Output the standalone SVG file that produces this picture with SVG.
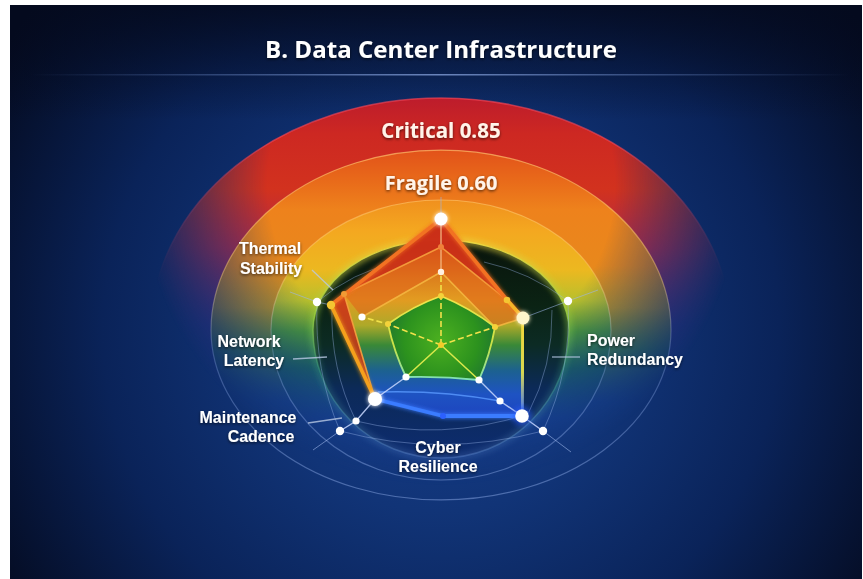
<svg xmlns="http://www.w3.org/2000/svg" width="863" height="579" viewBox="0 0 863 579">
  <defs>
    <style>
      .lbl { font-family: "Liberation Sans", "Open Sans", sans-serif; font-weight: 700; font-size: 16px; fill: #ffffff; }
      .band { font-family: "Open Sans", "Liberation Sans", sans-serif; font-weight: 700; fill: #fff4ea; }
      .leader { stroke: #b9c9e4; stroke-width: 1.3; stroke-opacity: 0.8; fill: none; }
      .faint { stroke: #9cb6ea; stroke-width: 1; stroke-opacity: 0.4; fill: none; }
      .spoke { stroke: #c9d8ff; stroke-width: 1.4; stroke-opacity: 0.85; fill: none; }
      .dash { stroke: #f2e24a; stroke-width: 1.6; stroke-dasharray: 6 3; fill: none; }
      .warmln { stroke: #f6a23e; stroke-width: 1.6; fill: none; stroke-opacity: 0.9; }
      .dot { fill: #ffffff; }
      .ydot { fill: #f4d23a; }
    </style>

    <!-- page background -->
    <radialGradient id="bgG" gradientUnits="userSpaceOnUse" cx="441" cy="330" r="520">
      <stop offset="0" stop-color="#17408e"/>
      <stop offset="0.35" stop-color="#113477"/>
      <stop offset="0.65" stop-color="#0a2359"/>
      <stop offset="1" stop-color="#040a1e"/>
    </radialGradient>
    <linearGradient id="topShade" x1="0" y1="5" x2="0" y2="120" gradientUnits="userSpaceOnUse">
      <stop offset="0" stop-color="#040a1e" stop-opacity="0.85"/>
      <stop offset="1" stop-color="#040a1e" stop-opacity="0"/>
    </linearGradient>
    <linearGradient id="ruleG" x1="30" y1="0" x2="850" y2="0" gradientUnits="userSpaceOnUse">
      <stop offset="0" stop-color="#6f8fd0" stop-opacity="0"/>
      <stop offset="0.5" stop-color="#8aa6e0" stop-opacity="0.75"/>
      <stop offset="1" stop-color="#6f8fd0" stop-opacity="0"/>
    </linearGradient>

    <!-- soft fade of the heat bands toward the sides and bottom -->
    <radialGradient id="fadeG" gradientUnits="userSpaceOnUse" cx="441" cy="185" r="300">
      <stop offset="0" stop-color="#fff"/>
      <stop offset="0.58" stop-color="#fff"/>
      <stop offset="1" stop-color="#000"/>
    </radialGradient>
    <mask id="warmMask" maskUnits="userSpaceOnUse" x="0" y="0" width="863" height="579">
      <rect width="863" height="579" fill="url(#fadeG)"/>
    </mask>

    <!-- heat band fills -->
    <linearGradient id="critG" x1="0" y1="98" x2="0" y2="552" gradientUnits="userSpaceOnUse">
      <stop offset="0" stop-color="#bd1c2c"/>
      <stop offset="0.08" stop-color="#cd2822"/>
      <stop offset="0.2" stop-color="#d2321e"/>
      <stop offset="0.33" stop-color="#b02a48"/>
      <stop offset="0.5" stop-color="#4a2c86"/>
      <stop offset="0.7" stop-color="#1a3585"/>
      <stop offset="1" stop-color="#12307a"/>
    </linearGradient>
    <linearGradient id="fragG" x1="0" y1="150" x2="0" y2="500" gradientUnits="userSpaceOnUse">
      <stop offset="0" stop-color="#e2521a"/>
      <stop offset="0.08" stop-color="#e8681a"/>
      <stop offset="0.17" stop-color="#ee821c"/>
      <stop offset="0.33" stop-color="#e8881c"/>
      <stop offset="0.45" stop-color="#c09624"/>
      <stop offset="0.57" stop-color="#4a8a3a"/>
      <stop offset="0.72" stop-color="#1c4a9a"/>
      <stop offset="1" stop-color="#10307a"/>
    </linearGradient>
    <linearGradient id="innerG" x1="0" y1="200" x2="0" y2="480" gradientUnits="userSpaceOnUse">
      <stop offset="0" stop-color="#f0901e"/>
      <stop offset="0.11" stop-color="#f4a820"/>
      <stop offset="0.25" stop-color="#ecb820"/>
      <stop offset="0.36" stop-color="#b8c02c"/>
      <stop offset="0.47" stop-color="#4e9e34"/>
      <stop offset="0.6" stop-color="#1e6a5a"/>
      <stop offset="0.78" stop-color="#1a48a0"/>
      <stop offset="1" stop-color="#12327e"/>
    </linearGradient>
    <linearGradient id="discG" x1="0" y1="240" x2="0" y2="458" gradientUnits="userSpaceOnUse">
      <stop offset="0" stop-color="#09130b"/>
      <stop offset="0.3" stop-color="#0b2314"/>
      <stop offset="0.48" stop-color="#0c2b24"/>
      <stop offset="0.68" stop-color="#0c2a58"/>
      <stop offset="1" stop-color="#0d2c70"/>
    </linearGradient>
    <linearGradient id="discEdge" x1="0" y1="240" x2="0" y2="458" gradientUnits="userSpaceOnUse">
      <stop offset="0" stop-color="#f0d840" stop-opacity="0.95"/>
      <stop offset="0.35" stop-color="#9ad040" stop-opacity="0.8"/>
      <stop offset="0.6" stop-color="#3aa080" stop-opacity="0.5"/>
      <stop offset="1" stop-color="#6a90d8" stop-opacity="0.35"/>
    </linearGradient>
    <linearGradient id="ringLine" x1="0" y1="98" x2="0" y2="500" gradientUnits="userSpaceOnUse">
      <stop offset="0" stop-color="#ffc070" stop-opacity="0.75"/>
      <stop offset="0.45" stop-color="#ffd070" stop-opacity="0.45"/>
      <stop offset="0.62" stop-color="#a8c4ff" stop-opacity="0.25"/>
      <stop offset="1" stop-color="#a8c4ff" stop-opacity="0.4"/>
    </linearGradient>

    <!-- data series fill -->
    <linearGradient id="seriesG" x1="0" y1="219" x2="0" y2="416" gradientUnits="userSpaceOnUse">
      <stop offset="0" stop-color="#d2341c"/>
      <stop offset="0.16" stop-color="#dc4c18"/>
      <stop offset="0.31" stop-color="#e8881e"/>
      <stop offset="0.41" stop-color="#eea222"/>
      <stop offset="0.54" stop-color="#b6b02a"/>
      <stop offset="0.64" stop-color="#3c8e38"/>
      <stop offset="0.77" stop-color="#1d6494"/>
      <stop offset="0.89" stop-color="#1f55c8"/>
      <stop offset="1" stop-color="#1e46c4"/>
    </linearGradient>
    <radialGradient id="coreG" gradientUnits="userSpaceOnUse" cx="441" cy="340" r="62">
      <stop offset="0" stop-color="#4cb020"/>
      <stop offset="0.6" stop-color="#2c921e"/>
      <stop offset="1" stop-color="#1c7034"/>
    </radialGradient>
    <linearGradient id="coreEdge" x1="0" y1="296" x2="0" y2="380" gradientUnits="userSpaceOnUse">
      <stop offset="0" stop-color="#f2e44a"/>
      <stop offset="0.6" stop-color="#c8e248"/>
      <stop offset="1" stop-color="#7ee0b8"/>
    </linearGradient>
    <linearGradient id="rightEdge" x1="0" y1="318" x2="0" y2="416" gradientUnits="userSpaceOnUse">
      <stop offset="0" stop-color="#f6d838"/>
      <stop offset="0.55" stop-color="#d8d850"/>
      <stop offset="1" stop-color="#3a70ff"/>
    </linearGradient>

    <filter id="glow" x="-50%" y="-50%" width="200%" height="200%">
      <feGaussianBlur stdDeviation="2.2" result="b"/>
      <feMerge><feMergeNode in="b"/><feMergeNode in="SourceGraphic"/></feMerge>
    </filter>
    <filter id="softGlow" x="-20%" y="-20%" width="140%" height="140%">
      <feGaussianBlur stdDeviation="3"/>
    </filter>
    <filter id="shadow" x="-20%" y="-40%" width="140%" height="180%">
      <feDropShadow dx="0" dy="1.2" stdDeviation="1.5" flood-color="#000" flood-opacity="0.65"/>
    </filter>
  </defs>

  <!-- page -->
  <rect width="863" height="579" fill="#ffffff"/>
  <rect x="10" y="5" width="852" height="574" fill="url(#bgG)"/>
  <rect x="10" y="5" width="852" height="115" fill="url(#topShade)"/>

  <!-- title -->
  <g id="title">
    <text x="441" y="58" text-anchor="middle" class="band" style="fill:#ffffff;font-size:24px" textLength="352" lengthAdjust="spacingAndGlyphs" filter="url(#shadow)">B. Data Center Infrastructure</text>
    <rect x="30" y="74" width="820" height="1.5" fill="url(#ruleG)"/>
  </g>

  <!-- heat bands: critical / fragile / stable -->
  <g id="bands">
    <g mask="url(#warmMask)">
      <path d="M151,330 A290,232 0 0 1 731,330 A290,222 0 0 1 151,330 Z" fill="url(#critG)"/>
      <path d="M151,330 A290,232 0 0 1 731,330" fill="none" stroke="#ff4a5a" stroke-opacity="0.6" stroke-width="1.5"/>
      <path d="M211,330 A230,180 0 0 1 671,330 A230,170 0 0 1 211,330 Z" fill="url(#fragG)"/>
      <path d="M271,330 A170,130 0 0 1 611,330 A170,150 0 0 1 271,330 Z" fill="url(#innerG)"/>
    </g>
    <!-- ring outlines -->
    <path d="M211,330 A230,180 0 0 1 671,330 A230,170 0 0 1 211,330 Z" fill="none" stroke="url(#ringLine)" stroke-width="1.2"/>
    <path d="M271,330 A170,130 0 0 1 611,330 A170,150 0 0 1 271,330 Z" fill="none" stroke="url(#ringLine)" stroke-width="1.2"/>
    <!-- stable core disc -->
    <path d="M313,330 A128,90 0 0 1 569,330 A128,128 0 0 1 313,330 Z" fill="url(#discG)"/>
    <path d="M313,330 A128,90 0 0 1 569,330 A128,128 0 0 1 313,330 Z" fill="none" stroke="url(#discEdge)" stroke-width="4" filter="url(#softGlow)"/>
    <path d="M313,330 A128,90 0 0 1 569,330 A128,128 0 0 1 313,330 Z" fill="none" stroke="url(#discEdge)" stroke-width="1.4"/>

    <text x="441" y="138" text-anchor="middle" class="band" style="font-size:20.5px" filter="url(#shadow)">Critical 0.85</text>
    <text x="441" y="190" text-anchor="middle" class="band" style="font-size:20px" filter="url(#shadow)">Fragile 0.60</text>
  </g>

  <!-- outer grid and axes -->
  <g id="grid">
    <path class="faint" d="M317,302 Q314,370 340,431"/>
    <path class="faint" d="M332,308 Q330,368 356,421"/>
    <path class="faint" d="M568,301 Q572,370 543,431"/>
    <path class="faint" d="M552,310 Q553,366 528,414"/>
    <path class="faint" d="M340,431 Q441,458 543,431"/>
    <path class="faint" d="M356,421 Q441,442 528,414"/>
    <path class="faint" d="M568,301 Q530,272 484,262"/>
    <path class="faint" d="M317,302 Q352,272 398,262"/>
    <!-- axis extensions -->
    <path class="faint" style="stroke-opacity:0.6" d="M441,219 L441,197"/>
    <path class="faint" style="stroke-opacity:0.6" d="M568,301 L598,290"/>
    <path class="faint" style="stroke-opacity:0.6" d="M317,302 L290,292"/>
    <path class="faint" style="stroke-opacity:0.6" d="M340,431 L313,450"/>
    <path class="faint" style="stroke-opacity:0.6" d="M543,431 L571,452"/>
    <path class="faint" style="stroke-opacity:0.55" d="M523,318 L568,301"/>
    <path class="faint" style="stroke-opacity:0.55" d="M331,305 L317,302"/>
  </g>

  <!-- data series -->
  <g id="series">
    <path d="M441,219 L507,300 L523,318 L522,416 L443,416 L375,399 L331,305 Z" fill="url(#seriesG)" fill-opacity="0.95"/>
    <!-- red crest -->
    <path d="M441,219 L507,300 L441,247 L344,294 L331,305 Z" fill="#c82c18" fill-opacity="0.85"/>
    <path d="M331,305 L344,294 L375,399 Z" fill="#c83018" fill-opacity="0.85"/>
    <path d="M441,247 L507,300 L523,318 L495,327 L441,272 L362,317 L344,294 Z" fill="#e0601a" fill-opacity="0.55"/>

    <!-- inner lines of the crest -->
    <path class="warmln" d="M441,247 L507,300"/>
    <path class="warmln" d="M441,247 L344,294 L375,399"/>
    <path class="warmln" style="stroke:#f4b640" d="M362,317 L441,272 L495,327 L523,318"/>
    <path class="warmln" style="stroke:#f7c08a;stroke-width:1.3" d="M441,219 L441,272"/>

    <!-- lower ring lines -->
    <path class="spoke" style="stroke:#5a9aff;stroke-opacity:0.8" d="M378,392 Q441,390 500,401"/>
    <path class="spoke" d="M406,377 L375,399 L356,421 L340,431"/>
    <path class="spoke" d="M479,380 L500,401 L522,416 L543,431"/>

    <!-- core pentagon -->
    <path d="M441,296 Q470,308 495,327 Q490,355 479,380 Q442,376 406,377 Q394,352 388,324 Q413,306 441,296 Z" fill="url(#coreG)" stroke="url(#coreEdge)" stroke-width="1.8"/>
    <path class="dash" d="M441,345 L441,272"/>
    <path class="dash" d="M441,345 L388,324 L362,317"/>
    <path class="dash" d="M441,345 L495,327"/>
    <path d="M441,345 L406,377 M441,345 L479,380" stroke="#d8e84a" stroke-width="1.6" fill="none"/>

    <!-- outline of the series -->
    <path d="M331,305 L441,219 L507,300 L523,318" fill="none" stroke="#f27222" stroke-width="3.6" stroke-linejoin="round" filter="url(#glow)"/>
    <path d="M507,300 L523,318" fill="none" stroke="#f5b428" stroke-width="3.4"/>
    <path d="M523,318 L522,416" fill="none" stroke="url(#rightEdge)" stroke-width="3.2" filter="url(#glow)"/>
    <path d="M375,399 L331,305" fill="none" stroke="#f5a01e" stroke-width="3.6" filter="url(#glow)"/>
    <path d="M522,416 L443,416 L375,399" fill="none" stroke="#3a7cff" stroke-width="3.8" stroke-linejoin="round" filter="url(#glow)"/>

    <!-- markers -->
    <circle cx="441" cy="219" r="6.5" class="dot" filter="url(#glow)"/>
    <circle cx="441" cy="247" r="3" fill="#f0803a"/>
    <circle cx="441" cy="272" r="3.2" fill="#fff0e0"/>
    <circle cx="441" cy="296" r="3" class="ydot"/>
    <circle cx="441" cy="345" r="3" fill="#f2cc2a"/>
    <circle cx="507" cy="300" r="3.3" fill="#f4c632"/>
    <circle cx="523" cy="318" r="6.5" fill="#fff6cc" filter="url(#glow)"/>
    <circle cx="495" cy="327" r="3" class="ydot"/>
    <circle cx="568" cy="301" r="4.2" class="dot"/>
    <circle cx="331" cy="305" r="4.2" fill="#f4c632"/>
    <circle cx="344" cy="294" r="3" fill="#f29a34"/>
    <circle cx="362" cy="317" r="3.6" class="dot"/>
    <circle cx="388" cy="324" r="3" class="ydot"/>
    <circle cx="317" cy="302" r="4.2" class="dot"/>
    <circle cx="406" cy="377" r="3.6" class="dot"/>
    <circle cx="375" cy="399" r="7" class="dot" filter="url(#glow)"/>
    <circle cx="356" cy="421" r="3.6" class="dot"/>
    <circle cx="340" cy="431" r="4.2" class="dot"/>
    <circle cx="479" cy="380" r="3.6" class="dot"/>
    <circle cx="500" cy="401" r="3.6" class="dot"/>
    <circle cx="522" cy="416" r="9" fill="#2a5cff" opacity="0.7" filter="url(#softGlow)"/>
    <circle cx="522" cy="416" r="6.8" class="dot"/>
    <circle cx="543" cy="431" r="4.2" class="dot"/>
    <circle cx="443" cy="416" r="3" fill="#2c60ff"/>
  </g>

  <!-- label leaders -->
  <g id="connectors">
    <path class="leader" d="M312,270 L333,290"/>
    <path class="leader" d="M293,359 L327,357"/>
    <path class="leader" d="M308,423 L342,418"/>
    <path class="leader" d="M552,357 L580,357"/>
  </g>

  <!-- axis labels -->
  <g id="thermal-stability" filter="url(#shadow)">
    <text class="lbl" x="270" y="254" text-anchor="middle">Thermal</text>
    <text class="lbl" x="271" y="274" text-anchor="middle">Stability</text>
  </g>
  <g id="network-latency" filter="url(#shadow)">
    <text class="lbl" x="249" y="347" text-anchor="middle">Network</text>
    <text class="lbl" x="254" y="366" text-anchor="middle">Latency</text>
  </g>
  <g id="maintenance-cadence" filter="url(#shadow)">
    <text class="lbl" x="248" y="423" text-anchor="middle">Maintenance</text>
    <text class="lbl" x="261" y="442" text-anchor="middle">Cadence</text>
  </g>
  <g id="cyber-resilience" filter="url(#shadow)">
    <text class="lbl" x="438" y="453" text-anchor="middle">Cyber</text>
    <text class="lbl" x="438" y="472" text-anchor="middle">Resilience</text>
  </g>
  <g id="power-redundancy" filter="url(#shadow)">
    <text class="lbl" x="587" y="346">Power</text>
    <text class="lbl" x="587" y="365">Redundancy</text>
  </g>
</svg>
